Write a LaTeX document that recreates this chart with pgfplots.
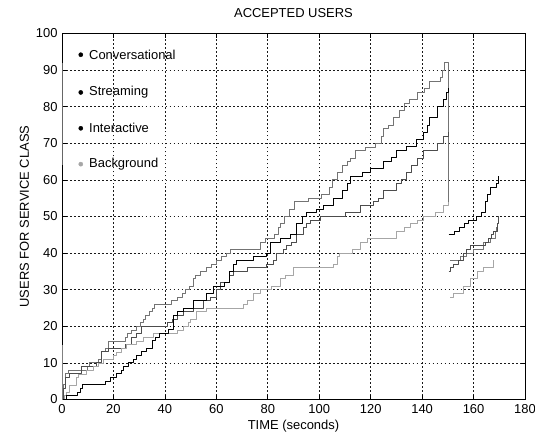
\documentclass[border=0pt]{standalone}
\usepackage{fontspec}
\setmainfont{Liberation Sans}
\usepackage{pgfplots}
\pgfplotsset{compat=1.18}
\usepackage{pgfplotstable}

\pgfplotstableread{
x y
0 0
0.5 4
1.5 7
2.5 8
10 9
10.5 10
14 11
15.5 13
16.7 14
18 16
24.5 17
25.5 18
27 19
29 20
30.4 21
31.5 22
32.3 23
34 24
35 25
36 26
42.7 27
45 28
46.8 29
48 30
49.5 31
51 33
52 34
54 35
56 36
58 37
60 38
62 39
64 40
65.3 41
77 43
79 44
82.5 45
84 47
85 48
86.5 50
88.5 52
90.5 54
95.7 55
101 56
104 58
105 60
107 62
109 64
111 65
112 66
114 68
118 69
122 70
124 72
125 74
127 75
129 77
131 79
133 81
135 82
138 84
141 85
143 87
147 88
148 90
148.7 92
150.3 54
}\seriesA

\pgfplotstableread{
x y
150.9 38
154.9 39
157.4 40
160 41
163.9 43
166.5 44
168.4 46
169 47
}\seriesAb

\pgfplotstableread{
x y
0 0
1.8 1
6.2 2
7 3
8 4
17 5
19 6
21 7
23 8
24 9
26 10
27.6 11
29 12
31 13
33 14
35 16
36.5 17
38 18
41.5 19
43.3 23
45 24
47.2 25
51 27
56 29
59 31
63 32
65 35
66.7 37
68 38
74.5 39
79.6 40
81 43
85 44
88.7 45
91 48
93.3 50
95.2 51
99 52
101.6 53
105.5 55
109 57
111 59
112 61
117 62
120 63
125 65
128 66
130 68
134 69
138 71
140.5 73
142 75
143 77
145.8 80
148.3 82
149.5 84
150.3 85
}\seriesB

\pgfplotstableread{
x y
150.3 45
152.5 46
154.5 47
156.5 48
158 49
161 50
163 51
164.5 54
165.5 56
166.5 58
169 59
169.8 61
}\seriesBb

\pgfplotstableread{
x y
0 0
0.5 3
1.5 6
3 7
7.6 9
13.5 10
15.4 13
18 14
24.5 15
27 17
29 18
31 20
40.8 21
43 22
45 23
47.2 24
51 25
55 27
57.6 28
60 30
61.5 32
65 34
66.7 35
71.9 36
79.6 37
82 38
83.5 40
86 41
87.4 42
89 43
91.3 45
93.9 47
95 48
96.5 49
100.4 50
110 51
116 53
121 54
123 55
125 57
130 59
132 60
134 62
136 64
138 66
140.5 68
145.8 70
148.3 72
150.3 73
}\seriesC

\pgfplotstableread{
x y
150.3 35
150.9 36
152.3 37
154 38
156.2 40
157.4 41
158.8 42
164.6 43
165.9 44
167.1 45
167.8 46
169.1 48
169.8 50
}\seriesCb

\pgfplotstableread{
x y
0 0
1 1
1.8 2
3 4
5.7 6
6.5 7
9.6 8
12.2 9
14 10
16 11
20 12
21.3 13
23 14
25.2 15
29 16
31.6 17
35.5 18
45 19
47.2 20
49 21
50 22
52.4 24
56.3 25
70.5 26
72 27
74.4 29
77 30
81.5 31
84.8 33
87 34
90 36
105.6 37
107 39
108 40
113 41
116 43
118.6 44
130 46
133 47
135.4 48
138 49
140.6 50
145 51
148.4 53
150.3 54
}\seriesD

\pgfplotstableread{
x y
151 28
152.3 29
156.2 31
158.8 33
161.4 35
163.9 36
167.8 38
}\seriesDb

\begin{document}
\begin{tikzpicture}
\useasboundingbox (0,0) rectangle (535bp,439bp);
\begin{axis}[
  at={(62bp,39.5bp)}, anchor=south west,
  scale only axis, width=463bp, height=366bp,
  xmin=0, xmax=180, ymin=0, ymax=100,
  xtick={0,20,...,180}, ytick={0,10,...,100},
  tick align=inside, major tick length=4.5bp,
  tick pos=both,
  grid=major,
  major grid style={black!90, line width=0.7pt, dash pattern=on 1.8pt off 2.2pt},
  axis line style={black, line width=0.8pt},
  tick style={black, line width=0.7pt},
  /pgf/number format/assume math mode=true,
  ticklabel style={font=\fontsize{13}{15}\selectfont},
  xticklabel style={yshift=-1bp},
  yticklabel style={xshift=-1bp},
  title={ACCEPTED USERS},
  title style={at={(0.5,1)}, anchor=base, yshift=10.5bp, font=\fontsize{13}{15}\selectfont},
  xlabel={TIME (seconds)},
  ylabel={USERS FOR SERVICE CLASS},
  xlabel style={font=\fontsize{13}{15}\selectfont},
  ylabel style={font=\fontsize{13}{15}\selectfont},
  every axis plot/.append style={const plot, line join=round},
]
\addplot[black!55, line width=0.85pt] table {\seriesA};
\addplot[black!55, line width=0.85pt] table {\seriesAb};
\addplot[black!70, line width=0.85pt] table {\seriesC};
\addplot[black!70, line width=0.85pt] table {\seriesCb};
\addplot[black!35, line width=0.7pt] table {\seriesD};
\addplot[black!35, line width=0.7pt] table {\seriesDb};
\addplot[black, line width=0.95pt] table {\seriesB};
\addplot[black, line width=0.95pt] table {\seriesBb};
\addplot[black!60, line width=1.8pt, sharp plot] coordinates {(0,64) (0,92)};
\addplot[black!50, line width=1.2pt, sharp plot] coordinates {(0,0) (0,15)};
\addplot[only marks, mark=*, mark size=2.1pt, black] coordinates {(7.3,94.2) (7.3,83.9) (7.3,74.1)};
\addplot[only marks, mark=*, mark size=2.1pt, black!35] coordinates {(7.3,64.3)};
\node[anchor=west, font=\fontsize{13}{15}\selectfont] at (axis cs:9.2,94.2) {Conversational};
\node[anchor=west, font=\fontsize{13}{15}\selectfont] at (axis cs:9.2,83.9) {Streaming};
\node[anchor=west, font=\fontsize{13}{15}\selectfont] at (axis cs:9.2,74.1) {Interactive};
\node[anchor=west, font=\fontsize{13}{15}\selectfont] at (axis cs:9.2,64.3) {Background};
\end{axis}
\end{tikzpicture}
\end{document}
